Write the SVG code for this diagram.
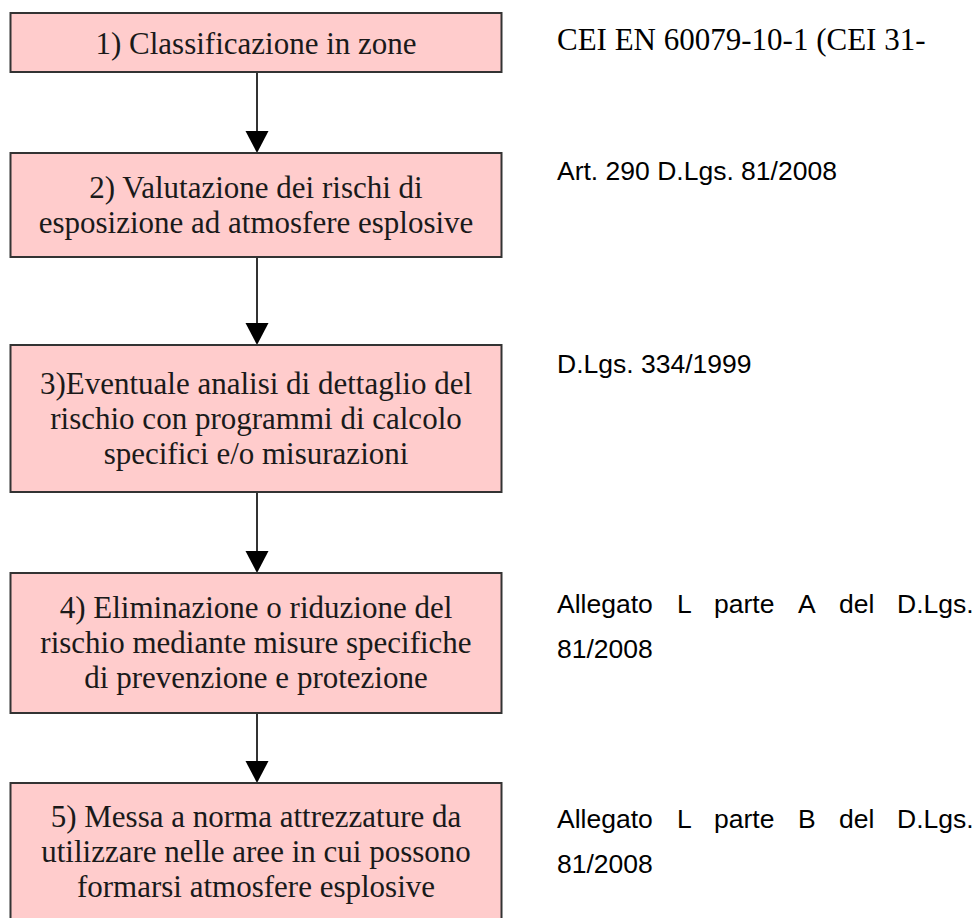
<svg xmlns="http://www.w3.org/2000/svg" width="975" height="918" viewBox="0 0 975 918">
<defs>
<style>
.box{fill:#FFCCCC;stroke:#333;stroke-width:2}
.bt{font-family:"Liberation Serif","Times New Roman",serif;font-size:31px;fill:#1a1a1a;text-anchor:middle}
.ref{font-family:"Liberation Sans",Arial,sans-serif;font-size:26.5px;fill:#000}
.refs{font-family:"Liberation Serif","Times New Roman",serif;font-size:31px;fill:#000}
.conn{stroke:#333;stroke-width:2;fill:none}
</style>
<marker id="ah" viewBox="0 0 23 22" refX="11.5" refY="22" markerWidth="23" markerHeight="22" markerUnits="userSpaceOnUse" orient="auto-start-reverse">
<path d="M0,0 L23,0 L11.5,22 Z" fill="#000"/>
</marker>
</defs>
<rect width="975" height="918" fill="#fff"/>
<g id="connectors">
<line class="conn" x1="257" y1="72" x2="257" y2="131"/>
<path d="M245.5,131 L268.5,131 L257,153 Z" fill="#000"/>
<line class="conn" x1="257" y1="257" x2="257" y2="323"/>
<path d="M245.5,323 L268.5,323 L257,345 Z" fill="#000"/>
<line class="conn" x1="257" y1="492" x2="257" y2="551"/>
<path d="M245.5,551 L268.5,551 L257,573 Z" fill="#000"/>
<line class="conn" x1="257" y1="713" x2="257" y2="761"/>
<path d="M245.5,761 L268.5,761 L257,783 Z" fill="#000"/>
</g>
<g id="n1">
<rect class="box" x="10.5" y="13" width="491" height="59"/>
<text class="bt" x="256" y="54">1) Classificazione in zone</text>
</g>
<g id="n2">
<rect class="box" x="10.5" y="153" width="491" height="104"/>
<text class="bt" x="256" y="198">2) Valutazione dei rischi di</text>
<text class="bt" x="256" y="233">esposizione ad atmosfere esplosive</text>
</g>
<g id="n3">
<rect class="box" x="10.5" y="345" width="491" height="147"/>
<text class="bt" x="256" y="394">3)Eventuale analisi di dettaglio del</text>
<text class="bt" x="256" y="429">rischio con programmi di calcolo</text>
<text class="bt" x="256" y="464">specifici e/o misurazioni</text>
</g>
<g id="n4">
<rect class="box" x="10.5" y="573" width="491" height="140"/>
<text class="bt" x="256" y="617.5">4) Eliminazione o riduzione del</text>
<text class="bt" x="256" y="652.5">rischio mediante misure specifiche</text>
<text class="bt" x="256" y="687.5">di prevenzione e protezione</text>
</g>
<g id="n5">
<rect class="box" x="10.5" y="783" width="491" height="150"/>
<text class="bt" x="256" y="827">5) Messa a norma attrezzature da</text>
<text class="bt" x="256" y="862">utilizzare nelle aree in cui possono</text>
<text class="bt" x="256" y="897">formarsi atmosfere esplosive</text>
</g>
<g id="refs">
<text class="refs" x="557" y="50">CEI EN 60079-10-1 (CEI 31-</text>
<text class="ref" x="557" y="180">Art. 290 D.Lgs. 81/2008</text>
<text class="ref" x="557" y="373">D.Lgs. 334/1999</text>
<text class="ref" y="613"><tspan x="557">Allegato</tspan><tspan x="677">L</tspan><tspan x="714">parte</tspan><tspan x="798">A</tspan><tspan x="839">del</tspan><tspan x="897">D.Lgs.</tspan></text>
<text class="ref" x="557" y="658">81/2008</text>
<text class="ref" y="828"><tspan x="557">Allegato</tspan><tspan x="677">L</tspan><tspan x="714">parte</tspan><tspan x="798">B</tspan><tspan x="839">del</tspan><tspan x="897">D.Lgs.</tspan></text>
<text class="ref" x="557" y="873">81/2008</text>
</g>
</svg>
